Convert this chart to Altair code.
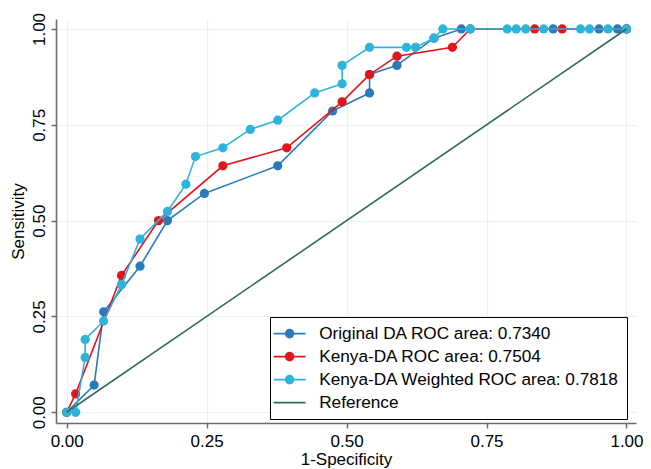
import altair as alt
import pandas as pd

# Series labels (legend text)
S_ORIG = "Original DA ROC area: 0.7340"
S_KEN = "Kenya-DA ROC area: 0.7504"
S_W = "Kenya-DA Weighted ROC area: 0.7818"
S_REF = "Reference"

series_names = [S_ORIG, S_KEN, S_W, S_REF]
series_colors = ["#2a7ab9", "#e2141c", "#2db4db", "#2e6b5b"]

# Original DA ROC points (1-specificity, sensitivity)
orig_x = [0.0, 0.049, 0.066, 0.131, 0.180, 0.246, 0.377, 0.475, 0.541, 0.541, 0.590, 0.656, 0.705, 0.869, 0.951, 0.984, 1.0]
orig_y = [0.0, 0.071, 0.262, 0.381, 0.500, 0.571, 0.643, 0.786, 0.833, 0.881, 0.905, 0.976, 1.0, 1.0, 1.0, 1.0, 1.0]

# Kenya-DA ROC points
ken_x = [0.0, 0.016, 0.098, 0.164, 0.279, 0.393, 0.492, 0.541, 0.590, 0.689, 0.721, 0.836, 0.885, 1.0]
ken_y = [0.0, 0.048, 0.357, 0.500, 0.643, 0.690, 0.810, 0.881, 0.929, 0.952, 1.0, 1.0, 1.0, 1.0]

# Kenya-DA Weighted ROC points
w_x = [0.0, 0.016, 0.033, 0.033, 0.066, 0.098, 0.131, 0.180, 0.213, 0.230, 0.279, 0.328, 0.377, 0.443,
       0.492, 0.492, 0.541, 0.607, 0.623, 0.656, 0.672, 0.721, 0.787, 0.803, 0.820, 0.852, 0.918, 0.934, 0.967, 1.0]
w_y = [0.0, 0.0, 0.143, 0.190, 0.238, 0.333, 0.452, 0.524, 0.595, 0.667, 0.690, 0.738, 0.762, 0.833,
       0.857, 0.905, 0.952, 0.952, 0.952, 0.976, 1.0, 1.0, 1.0, 1.0, 1.0, 1.0, 1.0, 1.0, 1.0, 1.0]

# Reference diagonal
ref_x = [0.0, 1.0]
ref_y = [0.0, 1.0]

tick_vals = [0.0, 0.25, 0.5, 0.75, 1.0]

rows = []
for name, xs, ys in [(S_ORIG, orig_x, orig_y), (S_KEN, ken_x, ken_y), (S_W, w_x, w_y), (S_REF, ref_x, ref_y)]:
    for i, (a, b) in enumerate(zip(xs, ys)):
        rows.append({"series": name, "fpr": a, "tpr": b, "idx": i})
df = pd.DataFrame(rows)

FONT = "Liberation Sans"

color_scale = alt.Scale(domain=series_names, range=series_colors)

x_enc = alt.X("fpr:Q", scale=alt.Scale(domain=[-0.0191, 1.017], nice=False, zero=False),
              axis=alt.Axis(values=tick_vals, format=".2f", title="1-Specificity",
                            labelPadding=5, titlePadding=2))
y_enc = alt.Y("tpr:Q", scale=alt.Scale(domain=[-0.028, 1.026], nice=False, zero=False),
              axis=alt.Axis(values=tick_vals, format=".2f", title="Sensitivity",
                            labelAngle=270, labelAlign="center", labelBaseline="alphabetic",
                            labelPadding=7, titlePadding=3))

# legend glyphs: nominal symbol box 10px, drawn 32px wide
line_path = "M-3.2,0H3.2"
circle_path = "M-3.2,0H3.2M-0.8,0A0.8,0.8,0,1,0,0.8,0A0.8,0.8,0,1,0,-0.8,0Z"
legend_spec = alt.Legend(
    title=None,
    orient="none",
    legendX=214,
    legendY=298,
    padding=8,
    fillColor="white",
    strokeColor="black",
    labelFont=FONT,
    labelFontSize=17.2,
    labelColor="black",
    labelLimit=500,
    labelOffset=21,
    symbolOffset=3,
    rowPadding=5,
    symbolSize=100,
    symbolStrokeWidth=1.6,
    symbolType=alt.ExprRef(expr="datum.value === 'Reference' ? '" + line_path + "' : '" + circle_path + "'"),
    symbolFillColor=alt.ExprRef(expr="datum.value === 'Reference' ? 'transparent' : scale('color', datum.value)"),
)

base = alt.Chart(df)
layers = []
for name in [S_ORIG, S_KEN, S_W]:
    sub = base.transform_filter(alt.datum.series == name)
    line = sub.mark_line(strokeWidth=1.6).encode(
        x=x_enc, y=y_enc,
        color=alt.Color("series:N", scale=color_scale, legend=legend_spec),
        order=alt.Order("idx:Q"),
    )
    pts = sub.mark_circle(size=85, opacity=1).encode(
        x=x_enc, y=y_enc,
        color=alt.Color("series:N", scale=color_scale, legend=None),
    )
    layers += [line, pts]

ref = base.transform_filter(alt.datum.series == S_REF).mark_line(strokeWidth=1.6).encode(
    x=x_enc, y=y_enc,
    color=alt.Color("series:N", scale=color_scale, legend=legend_spec),
    order=alt.Order("idx:Q"),
)
layers.append(ref)

chart = alt.layer(*layers).properties(
    width=580,
    height=404,
    autosize=alt.AutoSizeParams(type="none"),
    padding={"left": 48, "top": 11, "right": 7, "bottom": 46},
    background="white",
).configure_view(
    stroke=None
).configure_axis(
    labelFont=FONT,
    titleFont=FONT,
    labelFontSize=17,
    titleFontSize=17,
    titleFontWeight="normal",
    labelColor="black",
    titleColor="black",
    domainColor="#6b6b6b",
    domainWidth=1.6,
    tickColor="#6b6b6b",
    tickWidth=1.5,
    tickSize=5,
    gridColor="#e8f1f3",
    gridWidth=1.2,
)

chart.save("out.html", embed_options={"renderer": "svg", "actions": False})
